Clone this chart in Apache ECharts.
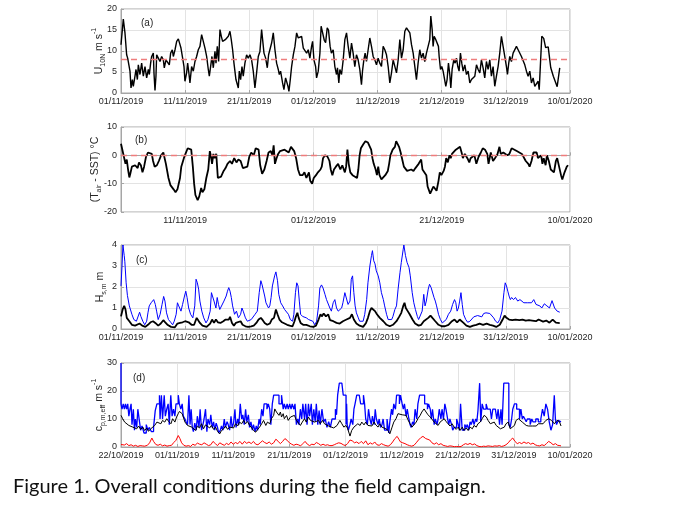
<!DOCTYPE html>
<html>
<head>
<meta charset="utf-8">
<title>Figure 1</title>
<script src="https://cdn.jsdelivr.net/npm/echarts@6.0.0/dist/echarts.min.js"></script>
<style>
  html, body { margin: 0; padding: 0; background: #fff; }
  #main { width: 680px; height: 510px; }
</style>
</head>
<body>
<div id="main"></div>
<script>
// time axis: days after 22/10/2019
var u10n = [[10,11.5],[10.36,17.6],[10.62,14.3],[10.88,9.1],[11.04,8.3],[11.25,8.7],[11.4,5.2],[11.56,1.2],[11.77,3.2],[11.92,1.6],[12.18,4],[12.34,5.6],[12.55,3.2],[12.7,6.7],[12.96,4.4],[13.22,7.1],[13.48,4],[13.74,6.3],[14,3.6],[14.26,5.6],[14.42,4.4],[14.62,7.1],[14.78,8.7],[15.04,9.5],[15.14,4.8],[15.3,0.6],[15.45,4],[15.56,9.1],[15.82,8.3],[16.08,7.5],[16.34,8.7],[16.6,7.9],[16.75,6],[17.01,7.9],[17.22,8.3],[17.53,6.7],[17.74,9.5],[18,10.3],[18.16,8.7],[18.42,10.3],[18.68,12.3],[18.94,12.9],[19.19,12.7],[19.35,10.7],[19.61,8.3],[19.82,6.3],[19.97,2.8],[20.23,4.8],[20.39,7.1],[20.55,5.2],[20.75,2.4],[21.01,6.3],[21.27,5.2],[21.53,7.5],[21.79,8.7],[22.05,10.3],[22.31,11.1],[22.57,13.9],[22.83,12.3],[23.09,10.7],[23.35,8.7],[23.61,5.6],[23.77,4],[23.97,6.3],[24.18,8.7],[24.39,6],[24.65,9.9],[24.81,7.1],[25.01,11.1],[25.22,7.5],[25.43,15.1],[25.64,13.5],[25.84,12.3],[26.05,11.9],[26.26,12.7],[26.47,13.1],[26.73,13.5],[26.99,14.7],[27.19,12.7],[27.4,10.3],[27.61,7.1],[27.92,3.2],[28.29,1.2],[28.44,5.2],[28.65,3.2],[28.86,6.3],[29.06,4],[29.32,7.1],[29.58,9.1],[29.84,8.3],[30.1,9.1],[30.36,7.9],[30.62,5.2],[30.88,1.2],[31.14,4.8],[31.4,8.7],[31.66,9.9],[31.92,15.1],[32.08,12.7],[32.29,9.5],[32.55,8.3],[32.81,6],[33.01,9.1],[33.22,8.7],[33.48,11.9],[33.74,14.3],[34,10.3],[34.26,7.1],[34.52,5.6],[34.68,4.4],[34.88,5.2],[35.19,2.4],[35.4,0.8],[35.66,3.6],[35.82,4],[36.03,1.6],[36.18,0.4],[36.39,3.2],[36.6,6.3],[36.86,9.1],[37.12,11.1],[37.38,14.3],[37.64,13.1],[37.9,12.7],[38.16,13.5],[38.42,10.7],[38.68,10.3],[38.94,9.5],[39.19,10.3],[39.45,8.3],[39.71,11.1],[39.87,12.3],[40.08,7.9],[40.34,6.3],[40.49,3.6],[40.75,5.2],[41.01,9.5],[41.2,15.9],[41.45,15.5],[41.7,12.5],[41.9,12],[42.15,15.5],[42.35,15],[42.6,11.1],[42.8,9.5],[43.08,10.3],[43.34,6.3],[43.6,4.4],[43.75,6],[43.96,2.4],[44.12,5.6],[44.38,4.4],[44.64,7.9],[44.9,12.7],[45.16,14.3],[45.42,11.1],[45.68,8.3],[45.94,11.9],[46.19,9.5],[46.45,6.3],[46.71,9.1],[46.97,7.9],[47.23,5.6],[47.49,2],[47.65,5.2],[47.86,7.9],[48.06,9.5],[48.27,7.5],[48.53,10.3],[48.79,13.1],[49.05,11.1],[49.31,8.7],[49.57,7.9],[49.83,6.7],[50.09,8.3],[50.35,7.1],[50.61,6.3],[50.87,11.1],[51.13,10.3],[51.39,9.1],[51.65,6.3],[51.91,2.4],[52.17,4.8],[52.43,7.9],[52.69,8.3],[52.95,4.8],[53.21,7.9],[53.47,12.7],[53.73,8.3],[53.99,10.3],[54.25,14.7],[54.51,15.5],[54.77,15.1],[55.03,14.3],[55.29,11.5],[55.55,9.5],[55.81,6.3],[56.06,3.2],[56.32,7.1],[56.58,10.3],[56.84,8.3],[57.1,9.5],[57.36,7.5],[57.62,9.5],[57.88,9.1],[58.14,12.7],[58.3,18.3],[58.51,15.1],[58.66,11.1],[58.82,13.5],[59.08,12.7],[59.29,13.1],[59.49,11.1],[59.6,8.7],[59.81,5.6],[60.01,6.3],[60.22,5.2],[60.48,5.6],[60.64,1.6],[60.84,3.2],[61.05,7.1],[61.26,4.4],[61.42,1.2],[61.62,5.6],[61.88,7.9],[62.09,7.1],[62.3,8.3],[62.51,6.3],[62.71,5.2],[62.92,9.5],[63.13,7.1],[63.34,5.2],[63.6,6.7],[63.86,4.4],[64.12,5.2],[64.38,2.4],[64.64,3.2],[64.9,2.8],[65.16,4],[65.42,6.7],[65.68,5.6],[65.94,4.8],[66.19,7.9],[66.45,6],[66.71,3.6],[66.97,7.5],[67.23,5.6],[67.49,7.9],[67.75,4],[68.01,6.3],[68.27,1.6],[68.53,4],[68.79,6.3],[69.05,9.5],[69.31,13.5],[69.57,11.1],[69.83,8.7],[70.09,6.3],[70.25,4.4],[70.45,7.1],[70.61,8.7],[70.87,7.5],[71.13,9.5],[71.39,9.1],[71.65,11.1],[71.91,10.3],[72.17,9.9],[72.43,8.7],[72.69,8.3],[72.95,6.7],[73.21,5.2],[73.47,4],[73.73,5.2],[73.99,2.4],[74.25,3.6],[74.51,1.6],[74.77,1.2],[75.03,2.8],[75.2,0.8],[75.6,13.5],[75.9,13],[76.2,10.8],[76.6,11],[77,6],[77.4,4],[78,1.5],[78.4,6]];

var tDiff = [[10,4.1],[10.3,4.5],[10.6,-2],[10.7,-3],[10.9,-1.5],[11.1,-5],[11.3,-7.8],[11.45,-6.5],[11.7,-4],[12,-4.5],[12.2,-3.5],[12.6,-4.5],[12.8,-2.5],[13.1,-3.5],[13.35,-6],[13.6,-4],[13.9,-0.5],[14.2,1],[14.5,1.2],[14.8,0.5],[15,-2],[15.25,-4],[15.6,-3.5],[15.9,-2],[16.25,0],[16.6,1],[16.8,0.5],[17,-3],[17.4,-8],[17.7,-10.5],[18.2,-12],[18.5,-13],[18.8,-12],[19.2,-8],[19.4,-4],[19.6,-2.5],[19.8,-1],[20.05,0.5],[20.4,2.5],[20.7,2.6],[20.95,2],[21.2,-4],[21.4,-10],[21.6,-14],[21.95,-15.8],[22.2,-14.5],[22.5,-11.5],[22.7,-13],[23,-12],[23.3,-8],[23.6,-5],[23.85,1.5],[24,0],[24.2,-3],[24.4,0.5],[24.6,-1],[24.85,0.5],[25.1,-8],[25.3,-8.5],[25.6,-7.5],[26,-5.5],[26.3,-4.5],[26.6,-3],[27,-2],[27.3,-3],[27.65,-1],[28,-2.5],[28.3,-1.5],[28.65,-2],[29,-4.5],[29.3,-5],[29.7,-4],[30,-0.5],[30.3,1],[30.7,0],[31,2.5],[31.2,3],[31.45,2],[31.7,-3.5],[32,-6.5],[32.35,-5],[32.7,-2],[33,1],[33.35,1.5],[33.6,0],[33.8,3.5],[34,-3],[34.25,-1],[34.5,0.5],[34.8,1.5],[35.1,1],[35.5,2],[35.8,1.5],[36.15,1],[36.5,3],[36.8,3],[37,1.5],[37.3,-1],[37.6,-5],[37.9,-7],[38.3,-7],[38.6,-6],[38.9,-8],[39.3,-6],[39.5,-9],[39.8,-10],[40.05,-8],[40.4,-7],[40.7,-6],[41.1,-5],[41.3,-4],[41.5,-1],[41.8,0],[42.2,-0.5],[42.5,-2],[42.7,-5],[42.95,-7],[43.2,-5],[43.5,-4],[43.85,-3],[44.2,-5],[44.5,-3.5],[44.9,-6],[45.1,-4],[45.3,2],[45.5,-3],[45.75,-6],[46.1,-7],[46.4,-6.5],[46.8,-8],[47,-5],[47.2,0],[47.4,2.5],[47.8,4],[48.1,5],[48.3,5.5],[48.5,4.5],[48.8,4],[49,2],[49.2,-1],[49.4,-3],[49.7,-5],[49.9,-7],[50.1,-4],[50.3,-7],[50.6,-8.5],[50.9,-9],[51.2,-7],[51.6,-5.5],[51.8,-3],[52,0],[52.35,2],[52.7,3],[52.9,5],[53.1,4.5],[53.35,3],[53.6,1],[53.9,-2],[54.1,-4],[54.4,-4.5],[54.6,-5.5],[54.9,-5.5],[55.25,-5],[55.6,-5.5],[55.9,-4.5],[56.1,-5],[56.4,-3],[56.6,-3],[56.8,-1.5],[57,-5],[57.3,-5.5],[57.6,-7],[57.8,-11],[58.2,-13.5],[58.5,-12],[58.7,-11],[58.9,-10.5],[59.2,-12.5],[59.5,-9],[59.7,-6],[59.95,-7],[60.3,-5.5],[60.5,-4],[60.7,-1],[60.95,-2.5],[61.2,0],[61.4,-1],[61.6,0.5],[61.8,1],[62.2,2],[62.5,1.5],[62.85,3],[63.1,1],[63.3,-1],[63.6,0.5],[64,-1],[64.3,-2.5],[64.5,-1],[64.75,-0.5],[65.1,0],[65.4,-3],[65.75,-0.5],[66.1,1],[66.4,2.5],[66.75,2],[67.1,0.5],[67.3,-3],[67.65,1],[68,-2],[68.3,-1],[68.7,0.5],[69,3],[69.2,0.5],[69.6,1],[69.9,1.5],[70.2,0],[70.55,0.5],[70.9,2.5],[71.2,2],[71.7,1.5],[72.1,1],[72.5,0.5],[72.8,0.5],[73.1,-2],[73.5,-3],[73.7,-4],[74,-2],[74.3,1],[74.5,1.5],[74.8,1],[75,-1],[75.2,-1.5],[75.5,0],[75.7,-3],[75.9,-1],[76.2,-3.5],[76.4,0],[76.7,-2],[77,-5],[77.5,-6],[77.8,-2],[78,-1],[78.3,-4],[78.6,-7],[78.8,-8.5],[79.15,-6],[79.5,-4],[79.7,-3.5]];

var hsBlue = [[10,2.05],[10.16,3],[10.3,4],[10.5,3.5],[10.6,3.2],[10.8,2.2],[11,1.6],[11.3,1.1],[11.7,0.7],[12,0.45],[12.4,0.37],[12.9,0.8],[13.1,0.6],[13.4,0.37],[13.7,0.2],[14,0.37],[14.2,0.77],[14.4,1.1],[14.7,1.25],[14.9,1.33],[15.1,1.4],[15.35,1.17],[15.55,0.85],[15.8,0.45],[16.1,0.7],[16.4,1.17],[16.65,1.55],[16.85,1.33],[17.1,0.77],[17.4,0.45],[17.75,0.32],[18.05,0.2],[18.3,0.37],[18.6,0.7],[18.8,1.25],[19,1.1],[19.35,0.85],[19.6,1.17],[19.9,1.57],[20.1,1.8],[20.3,1.5],[20.55,1],[20.85,0.7],[21.2,0.53],[21.5,1.1],[21.7,2.37],[21.9,2.2],[22.1,1.9],[22.3,1.33],[22.6,0.85],[22.9,0.53],[23.25,0.29],[23.55,0.45],[23.9,0.85],[24.1,1.73],[24.3,1.8],[24.5,1.33],[24.8,1],[25,1.5],[25.2,1.17],[25.4,0.93],[25.7,1],[26.05,1.33],[26.4,1.57],[26.6,1.8],[26.8,1.97],[27,1.8],[27.2,1.5],[27.4,1.1],[27.7,0.7],[28,0.85],[28.3,0.53],[28.65,0.7],[28.85,1],[29.05,0.85],[29.4,0.53],[29.7,0.37],[30,0.37],[30.3,0.45],[30.6,0.53],[30.9,0.7],[31.25,0.85],[31.55,1.73],[31.8,2.3],[32,2.1],[32.2,2.05],[32.4,1.57],[32.6,1.25],[32.8,1.17],[33,1],[33.2,1.1],[33.4,1.5],[33.6,2.05],[33.95,2.53],[34.15,2.72],[34.4,2.3],[34.6,1.65],[34.9,1.25],[35.2,1.1],[35.5,0.93],[35.8,0.85],[36.1,0.7],[36.4,0.45],[36.75,0.37],[36.95,0.7],[37.2,1.73],[37.4,2.2],[37.6,2.05],[37.8,1.33],[38,0.7],[38.3,0.6],[38.6,0.53],[38.9,0.53],[39.25,0.45],[39.55,0.53],[39.9,0.37],[40.2,0.2],[40.5,0.37],[40.8,1.1],[41,1.95],[41.26,2.1],[41.5,1.95],[41.8,1.65],[42.04,1.4],[42.3,1.33],[42.56,1],[42.8,0.85],[43.08,1.25],[43.34,1.4],[43.6,1],[43.86,0.85],[44.1,0.93],[44.4,1],[44.6,1.25],[44.9,1.73],[45.15,1.65],[45.4,1.17],[45.7,1.33],[45.9,2.37],[46.1,2.53],[46.3,1.73],[46.5,1.1],[46.7,0.77],[47,0.53],[47.2,0.37],[47.5,0.29],[47.75,0.37],[48,0.7],[48.3,1.4],[48.5,2.2],[48.8,3],[49.05,3.5],[49.2,3.73],[49.4,3.25],[49.6,3.1],[49.8,2.77],[50.1,2.53],[50.35,2.2],[50.6,1.73],[50.9,1.4],[51.1,1.1],[51.4,0.7],[51.65,0.45],[51.9,0.37],[52.2,0.45],[52.4,0.6],[52.7,0.93],[52.95,1.1],[53.2,1.9],[53.5,2.7],[53.7,3.17],[54,3.8],[54.1,4],[54.35,3.5],[54.6,3.17],[54.9,2.93],[55.1,2.53],[55.4,1.73],[55.65,1.25],[55.9,0.93],[56.2,0.6],[56.4,0.45],[56.7,0.53],[56.95,0.85],[57.2,1.65],[57.4,1.1],[57.6,1.33],[57.9,1.9],[58.1,2.13],[58.35,1.97],[58.55,1.9],[58.8,1.5],[59,1.33],[59.2,1.1],[59.5,0.7],[59.8,0.45],[60.1,0.29],[60.4,0.32],[60.7,0.45],[61.05,0.7],[61.4,0.85],[61.7,1.17],[62,1.4],[62.2,1.25],[62.4,0.85],[62.6,1],[62.8,1.33],[63,1.73],[63.2,1.17],[63.4,0.7],[63.75,0.45],[64.05,0.32],[64.4,0.37],[64.7,0.45],[65,0.58],[65.3,0.6],[65.6,0.64],[65.9,0.7],[66.25,0.58],[66.55,0.74],[66.9,0.77],[67.2,0.8],[67.5,0.74],[67.8,0.7],[68.1,0.53],[68.4,0.37],[68.75,0.29],[69.05,0.45],[69.4,0.85],[69.7,1.73],[69.9,2.2],[70.1,2.05],[70.3,1.8],[70.5,1.57],[70.7,1.4],[70.9,1.5],[71.2,1.4],[71.5,1.5],[71.85,1.33],[72.2,1.4],[72.5,1.33],[72.8,1.25],[73.1,1.33],[73.4,1.25],[73.7,1.33],[74,1.25],[74.35,1.4],[74.7,1.17],[75,1.25],[75.3,1.1],[75.6,1],[76,1.2],[76.4,1.1],[76.8,1],[77.2,1.35],[77.6,1],[78,0.85],[78.4,0.8]];

var hsBlack = [[10,0.6],[10.26,0.93],[10.5,1.1],[10.7,0.93],[10.9,0.53],[11.3,0.37],[11.7,0.2],[12.2,0.16],[12.9,0.26],[13.3,0.16],[13.8,0.1],[14.2,0.2],[14.6,0.32],[15,0.37],[15.35,0.29],[15.8,0.16],[16.2,0.26],[16.6,0.42],[16.9,0.32],[17.3,0.19],[17.8,0.1],[18.4,0.08],[18.8,0.26],[19.2,0.29],[19.6,0.32],[20,0.37],[20.2,0.45],[20.55,0.32],[21,0.2],[21.4,0.2],[21.6,0.37],[21.8,0.53],[22,0.45],[22.3,0.29],[22.7,0.16],[23.35,0.1],[23.9,0.26],[24.2,0.45],[24.5,0.29],[24.8,0.45],[25.1,0.32],[25.5,0.29],[25.95,0.37],[26.3,0.45],[26.6,0.53],[26.8,0.45],[27,0.58],[27.3,0.29],[27.6,0.16],[27.9,0.29],[28.2,0.2],[28.65,0.37],[28.95,0.2],[29.4,0.13],[29.8,0.1],[30.3,0.13],[30.7,0.16],[31.1,0.29],[31.45,0.45],[31.8,0.53],[32.1,0.42],[32.4,0.29],[32.8,0.2],[33.2,0.26],[33.5,0.45],[33.85,0.53],[34.15,0.93],[34.4,0.7],[34.7,0.45],[35.1,0.32],[35.5,0.26],[35.9,0.2],[36.3,0.16],[36.75,0.13],[37.05,0.37],[37.25,0.58],[37.5,0.77],[37.7,0.53],[38,0.29],[38.4,0.2],[38.9,0.2],[39.45,0.13],[40,0.1],[40.4,0.16],[40.8,0.45],[41.1,0.7],[41.3,0.6],[41.6,0.74],[41.95,0.6],[42.3,0.7],[42.6,0.42],[43.1,0.37],[43.6,0.29],[44.1,0.26],[44.6,0.37],[45.15,0.45],[45.7,0.53],[46,0.7],[46.3,0.45],[46.7,0.26],[47.2,0.16],[47.75,0.1],[48.2,0.29],[48.5,0.53],[48.8,0.85],[49.05,1],[49.3,0.93],[49.6,0.85],[49.9,0.7],[50.35,0.53],[50.9,0.37],[51.4,0.2],[51.9,0.13],[52.4,0.2],[52.95,0.37],[53.4,0.6],[53.7,0.77],[54,1.1],[54.2,1.25],[54.4,1],[54.7,0.85],[55,0.7],[55.45,0.45],[55.85,0.26],[56.4,0.16],[56.8,0.2],[57.2,0.37],[57.5,0.29],[57.9,0.53],[58.25,0.64],[58.55,0.53],[59,0.37],[59.5,0.2],[60,0.13],[60.5,0.13],[61.05,0.2],[61.6,0.37],[62,0.45],[62.4,0.32],[62.8,0.45],[63.1,0.53],[63.4,0.29],[63.85,0.16],[64.4,0.1],[64.9,0.16],[65.4,0.2],[65.9,0.26],[66.45,0.2],[67,0.26],[67.5,0.2],[68,0.16],[68.5,0.1],[69.05,0.2],[69.5,0.45],[69.8,0.64],[70.1,0.53],[70.5,0.45],[71,0.42],[71.5,0.45],[72.1,0.42],[72.6,0.45],[73.1,0.4],[73.6,0.42],[74.1,0.4],[74.7,0.37],[75.1,0.45],[75.3,0.38],[75.8,0.35],[76.3,0.4],[76.8,0.3],[77.3,0.45],[77.8,0.3],[78.4,0.28]];

var cpBlue = [[0,30],[0.18,15.4],[0.4,13.5],[0.6,15.4],[0.8,13.5],[1,15.4],[1.2,13.5],[1.4,15.4],[1.6,11],[1.8,13.5],[1.96,15.4],[2.2,8],[2.4,13.5],[2.56,6],[2.8,10],[3,7],[3.3,13.5],[3.5,9],[3.75,6],[4.1,7.5],[4.5,5],[4.8,8],[5.06,6],[5.4,7],[5.8,5.5],[6.1,7],[6.4,13],[6.6,15.4],[6.85,15.4],[6.96,18.5],[7.2,10],[7.4,18.5],[7.7,10],[7.9,18.5],[8.15,11],[8.4,13.5],[8.6,15.4],[8.87,8],[9.1,18.5],[9.35,11],[9.6,13.5],[9.8,11],[10.2,15.4],[10.4,18.5],[10.65,15.4],[10.9,13.5],[11.1,15.4],[11.4,11],[11.6,10],[11.85,9],[12.1,8],[12.3,18.5],[12.5,8],[12.7,13.5],[12.9,7],[13.15,5.5],[13.4,8.5],[13.6,6],[13.9,11],[14.1,7],[14.35,13.5],[14.6,6],[14.8,8],[15.06,10],[15.3,13.5],[15.5,5.5],[15.8,10],[16,8],[16.25,11.5],[16.5,7],[16.7,9],[16.96,6],[17.2,8.5],[17.4,7],[17.7,5],[17.9,6],[18.15,7.5],[18.4,6],[18.6,10],[18.9,7],[19.1,9],[19.35,8],[19.6,6],[19.8,11],[20.06,7],[20.3,8.5],[20.5,13.5],[20.8,7],[21,10],[21.25,8],[21.5,15.4],[21.7,10],[21.96,11.5],[22.2,8],[22.4,13.5],[22.7,9],[22.9,11.5],[23.15,7],[23.4,9],[23.6,6],[23.9,8],[24.1,5.5],[24.35,7.5],[24.6,6],[24.8,10],[25.06,8],[25.3,13.5],[25.5,11],[25.8,15.4],[26,15.4],[26.25,13.5],[26.5,15.4],[26.7,13.5],[26.96,8],[27.2,15.4],[27.4,18.5],[27.7,18.5],[27.9,18.5],[28.15,18.5],[28.4,15.4],[28.6,15.4],[28.9,18.5],[29.1,13.5],[29.35,15.4],[29.6,13.5],[29.8,15.4],[30.06,13.5],[30.3,15.4],[30.5,13.5],[30.8,15.4],[31,13.5],[31.25,15.4],[31.5,8],[31.7,10],[31.96,8],[32.2,13.5],[32.4,10],[32.7,15.4],[32.9,10],[33.15,15.4],[33.4,8],[33.6,15.4],[33.9,11],[34.1,15.4],[34.35,8],[34.6,13.5],[34.8,9],[35.06,15.4],[35.3,8],[35.5,13],[35.8,8],[36.1,13.5],[36.4,9],[36.7,10],[37,7],[37.3,9],[37.6,7],[37.9,10],[38.2,10],[38.4,13.5],[38.6,11.5],[38.9,18.5],[39.1,22.8],[39.35,22.8],[39.6,22.8],[39.8,18.5],[40.1,18.5],[40.2,8],[40.3,15.4],[40.5,8],[40.8,6],[41,8],[41.3,10],[41.5,8],[41.7,13.5],[42,15.4],[42.2,18.5],[42.45,18.5],[42.7,18.5],[42.9,15.4],[43.2,15.4],[43.4,18.5],[43.6,15.4],[43.9,10],[44.1,8],[44.35,13.5],[44.6,10],[44.8,8],[45.1,11],[45.3,8],[45.5,13.5],[45.8,10],[46,8],[46.25,10],[46.5,7],[46.7,8],[46.96,10],[47.2,6],[47.4,6],[47.7,10],[47.9,5],[48.2,9],[48.4,13.5],[48.6,11.5],[48.9,15.4],[49.1,13.5],[49.35,18.5],[49.6,18.5],[49.8,15.4],[50.1,18.5],[50.3,15.4],[50.5,13.5],[50.8,15.4],[51,11],[51.3,13.5],[51.5,10],[51.7,8],[51.96,7],[52.2,9],[52.4,8],[52.7,13.5],[52.9,10],[53.2,15.4],[53.4,18.5],[53.6,18.5],[53.9,18.5],[54.1,18.5],[54.35,15.4],[54.6,15.4],[54.8,13.5],[55.1,15.4],[55.3,13.5],[55.5,10],[55.8,13.5],[56,8],[56.3,10],[56.5,8],[56.7,10],[57,13.5],[57.2,10],[57.45,13.5],[57.7,10],[57.9,15.4],[58.2,13.5],[58.4,10],[58.6,8],[58.9,10],[59.1,8],[59.35,6],[59.6,7],[59.8,7],[60.1,10],[60.3,8],[60.5,6],[60.8,15.4],[61,6],[61.25,6],[61.5,8],[61.7,7],[61.96,8],[62.2,6],[62.4,9],[62.7,8],[62.9,10],[63.2,8],[63.4,10],[63.6,9],[63.9,13],[64.1,22.8],[64.35,9],[64.6,15.4],[64.8,13.5],[65.06,13.5],[65.3,15.4],[65.5,13.5],[65.8,13.5],[66,13.5],[66.25,10],[66.5,13.5],[66.7,13.5],[66.96,13.5],[67.2,10],[67.45,13.5],[67.7,8],[67.9,13.5],[68.2,8],[68.4,22.8],[68.6,22.8],[68.9,22.8],[69.1,22.8],[69.35,8],[69.6,7],[69.8,10],[70.1,13.5],[70.3,15.4],[70.5,15.4],[70.8,13.5],[71,13.5],[71.25,10],[71.5,13.5],[71.7,10],[71.96,11],[72.2,10],[72.4,9],[72.7,10],[72.9,10],[73.2,8],[73.4,10],[73.6,9],[73.9,9],[74.1,10],[74.35,10],[74.6,9],[74.8,9],[75.1,10],[75.4,13.5],[75.7,11],[76,15.4],[76.3,13.5],[76.6,9],[76.9,6],[77.2,8],[77.4,18.5],[77.6,10],[77.9,8],[78.2,9.5],[78.4,9]];

var cpBlack = [[0,11.3],[0.3,10.1],[0.65,8.9],[1,9.5],[1.4,7.7],[1.7,8.3],[2.1,7.1],[2.4,7.7],[2.8,6.5],[3.15,7.5],[3.5,6.3],[3.9,7.1],[4.2,5.9],[4.6,6.8],[4.9,5.6],[5.3,6.5],[5.65,6.8],[6,7.7],[6.4,8.9],[6.7,9.5],[7.1,8.3],[7.4,9.5],[7.8,8.9],[8.15,10.1],[8.5,9.1],[8.9,8.3],[9.2,10.1],[9.6,8.9],[9.9,10.7],[10.2,11.9],[10.4,12.7],[10.65,12.5],[10.9,11.9],[11.1,11.3],[11.4,8.9],[11.6,9.5],[11.85,7.7],[12.2,8.3],[12.6,7.1],[12.9,7.7],[13.3,5.9],[13.6,7.5],[14,6.8],[14.35,8.3],[14.7,6.5],[15.06,7.9],[15.4,7.5],[15.8,6.8],[16.1,7.7],[16.5,6.3],[16.85,7.1],[17.2,5.6],[17.6,4.7],[17.9,5.9],[18.3,6.5],[18.6,7.5],[19,6.3],[19.35,7.1],[19.7,7.7],[20.06,6.8],[20.4,8.3],[20.8,7.5],[21.1,8.9],[21.5,8.3],[21.85,9.5],[22.2,8.3],[22.56,9.1],[22.9,7.7],[23.3,6.8],[23.6,5.9],[24,5.3],[24.35,6.3],[24.7,7.1],[25.06,8.3],[25.4,9.5],[25.8,7.7],[26.1,8.9],[26.5,8.3],[26.8,10.1],[27.2,11.3],[27.4,13.6],[27.7,12.5],[27.9,13],[28.15,11.3],[28.4,12.5],[28.6,10.7],[28.9,11.9],[29.1,10.1],[29.5,11.3],[29.8,9.5],[30.2,10.7],[30.5,10.1],[30.9,11.3],[31.25,9.5],[31.6,8.9],[31.96,7.7],[32.3,8.9],[32.7,10.1],[33,8.9],[33.4,10.7],[33.75,9.5],[34.1,10.1],[34.5,8.9],[34.8,8.3],[35.2,9.5],[35.5,8.3],[35.9,9.5],[36.25,8.3],[36.6,7.9],[37,7.5],[37.3,7.9],[37.9,6.8],[38.5,7.7],[39,9.5],[39.35,8.3],[39.7,7.1],[40.1,7.7],[40.4,6.5],[40.8,3.9],[41.1,5.9],[41.5,7.1],[41.85,6.5],[42.2,8.3],[42.6,7.7],[42.9,8.9],[43.3,7.9],[43.6,8.9],[44,7.7],[44.35,8.3],[44.7,7.5],[45.1,8.9],[45.4,7.9],[45.8,7.1],[46.1,8.3],[46.5,7.1],[46.85,7.7],[47.2,6.5],[47.6,5.9],[47.9,4.7],[48.3,7.1],[48.6,8.9],[49,10.1],[49.35,11.9],[49.7,12.5],[50.1,11.5],[50.4,12.2],[50.8,11.3],[51.1,9.8],[51.5,8.3],[51.85,7.1],[52.2,7.7],[52.6,8.9],[52.9,10.1],[53.3,11.3],[53.6,12.5],[54,13.6],[54.35,12.5],[54.7,11.5],[55.1,10.7],[55.4,10.1],[55.8,8.9],[56.1,9.5],[56.5,7.7],[56.85,8.9],[57.2,9.5],[57.6,10.1],[57.9,9.1],[58.3,8.3],[58.6,7.5],[59,8.3],[59.35,7.1],[59.7,6.3],[60.1,7.1],[60.4,5.9],[60.8,7.1],[61.1,5.9],[61.5,6.8],[61.85,5.9],[62.2,7.1],[62.6,6.5],[62.9,7.7],[63.3,7.1],[63.6,8.3],[64,8.9],[64.35,10.1],[64.7,11.3],[65.1,10.7],[65.4,9.5],[65.8,8.3],[66.1,7.7],[66.5,8.9],[66.85,7.7],[67.2,7.1],[67.6,6.5],[67.9,5.9],[68.3,7.1],[68.6,8.3],[69,8.9],[69.35,6.5],[69.7,5.9],[70.1,7.7],[70.4,9.5],[70.8,10.1],[71.1,9.5],[71.5,8.9],[71.85,8.3],[72.2,7.7],[72.6,7.5],[72.9,7.9],[73.3,7.5],[73.6,7.1],[74,7.5],[74.35,8.3],[74.7,8.9],[75.2,8.3],[75.7,9.5],[76.2,10.1],[76.7,9.5],[77.2,8.3],[77.7,9.5],[78.1,9.1],[78.4,7.5]];

var cpRed = [[0,0.9],[0.3,1],[0.6,0.7],[1,1.2],[1.4,0.5],[1.8,0.8],[2.2,0.3],[2.6,0.6],[3,0.2],[3.4,0.5],[3.8,0.4],[4.2,0.3],[4.7,0.6],[5.1,1.5],[5.5,3.2],[5.8,2],[6.2,0.9],[6.6,0.6],[7,1],[7.4,0.4],[7.8,0.7],[8.2,0.3],[8.6,0.5],[9,0.6],[9.4,1.6],[9.8,2.4],[10.2,4.1],[10.5,3],[10.8,1.5],[11.2,0.6],[11.6,0.3],[12,0.5],[12.4,0.2],[12.8,1],[13.2,0.6],[13.6,1.4],[14,1],[14.4,0.8],[14.8,1.5],[15.2,1],[15.6,0.5],[16,0.8],[16.4,2],[16.8,1.2],[17.2,0.5],[17.6,1.5],[18,1],[18.4,0.6],[18.8,1.3],[19.2,0.8],[19.6,1.8],[20,1],[20.4,1.6],[20.8,1.2],[21.2,2],[21.6,1],[22,2],[22.4,1.3],[22.8,1.8],[23.2,1.2],[23.6,2],[24,1],[24.4,0.8],[24.8,1.5],[25.2,2.2],[25.6,1.6],[26,1.2],[26.4,1.8],[26.8,1],[27.2,1.5],[27.6,2.8],[28,2],[28.4,1.2],[28.8,2],[29.2,3],[29.6,2.4],[30,1.5],[30.4,1],[30.8,0.6],[31.2,1],[31.6,0.8],[32,0.4],[32.4,1.2],[32.8,2],[33.2,1],[33.6,0.5],[34,1],[34.4,0.8],[34.8,1.6],[35.2,1.2],[35.6,0.6],[36,1],[36.4,0.6],[36.8,0.8],[37.2,0.5],[37.6,0.5],[38,0.8],[38.4,1.2],[38.8,1.5],[39.2,1.3],[39.6,0.8],[40,0.5],[40.4,1.3],[40.8,2.5],[41.2,2.2],[41.6,1.5],[42,1.8],[42.4,1.2],[42.8,2],[43.2,1.2],[43.6,2.2],[44,0.8],[44.4,1.5],[44.8,1],[45.2,1.8],[45.6,0.8],[46,0.6],[46.4,1.2],[46.8,0.8],[47.2,0.5],[47.6,0.3],[48,0.8],[48.4,1.8],[48.8,3],[49.2,3.8],[49.5,2.8],[49.8,1.8],[50.2,1.5],[50.6,1.2],[51,0.8],[51.4,0.5],[51.8,0.3],[52.2,0.6],[52.6,1.5],[53,2.5],[53.4,3.3],[53.8,3.8],[54,4],[54.3,3],[54.6,3.6],[55,2.5],[55.4,1.5],[55.8,1],[56.2,1.5],[56.6,0.8],[57,1.2],[57.4,0.6],[57.8,0.4],[58.2,0.2],[58.6,0.4],[59,0.3],[59.4,0.1],[59.8,0.2],[60.2,0.1],[60.6,0.2],[61,0.8],[61.4,1.2],[61.8,0.9],[62.2,1.3],[62.6,0.8],[63,1.1],[63.4,0.5],[63.8,0.2],[64.2,0.1],[64.6,0.3],[65,0.2],[65.4,0.4],[65.8,0.3],[66.2,0.2],[66.6,0.4],[67,0.3],[67.4,0.5],[67.8,0.2],[68.2,0.4],[68.6,0.8],[69,1.5],[69.4,2.5],[69.8,3.2],[70.2,2],[70.6,1.2],[71,1.6],[71.4,1.2],[71.8,1.8],[72.2,1.3],[72.6,1.6],[73,1],[73.4,1.4],[73.8,0.8],[74.2,0.5],[74.6,0.4],[75,0.8],[75.4,0.5],[75.8,1.2],[76.2,2],[76.6,1.5],[77,0.8],[77.4,1.2],[77.8,0.6],[78.2,0.5],[78.4,0.4]];

// dashed reference levels in (a) and (b)
var u10nRef = 8;
var tDiffRef = 0;

var panelTags = ['(a)', '(b)', '(c)', '(d)'];
var bTickDays = [20, 40, 60, 80];
var caption = 'Figure 1. Overall conditions during the field campaign.';

var dayMs = 86400000;
var startMs = Date.UTC(2019, 9, 22);
function pad(n) { return n < 10 ? '0' + n : '' + n; }
function dayLabel(d) {
  var t = new Date(startMs + Math.round(d) * dayMs);
  return pad(t.getUTCDate()) + '/' + pad(t.getUTCMonth() + 1) + '/' + t.getUTCFullYear();
}

var font = 'Liberation Sans, Arial, Helvetica, sans-serif';
var boxColor = '#a6a6a6';
var gridColor = '#e3e3e3';
var textColor = '#262626';
var refColor = '#ee7d7d';

var grids = [
  { left: 121, width: 449, top: 9, height: 84 },
  { left: 121, width: 449, top: 127, height: 85 },
  { left: 121, width: 449, top: 245, height: 84 },
  { left: 121, width: 449, top: 363, height: 84 }
].map(function (g) {
  g.show = true; g.borderColor = boxColor; g.borderWidth = 1; g.containLabel = false;
  return g;
});

function xAxis(i, min, custom) {
  var ax = {
    type: 'value', gridIndex: i, min: min, max: 80,
    axisLine: { lineStyle: { color: boxColor } },
    axisTick: { inside: true, length: 3, lineStyle: { color: boxColor } },
    splitLine: { show: true, lineStyle: { color: gridColor, width: 1 } },
    axisLabel: { formatter: dayLabel, fontSize: 9, color: textColor, fontFamily: font, margin: 4, showMinLabel: true, showMaxLabel: true }
  };
  if (custom) {
    ax.axisTick.customValues = custom;
    ax.axisLabel.customValues = custom;
  } else {
    ax.interval = 10;
  }
  return ax;
}

var richName = {
  b: { fontSize: 10.5, lineHeight: 16, color: textColor, fontFamily: font },
  s: { fontSize: 7, lineHeight: 8, verticalAlign: 'bottom', color: textColor, fontFamily: font },
  p: { fontSize: 7, lineHeight: 8, verticalAlign: 'top', color: textColor, fontFamily: font }
};

function yAxis(i, min, max, interval, name, gap) {
  return {
    type: 'value', gridIndex: i, min: min, max: max, interval: interval,
    name: name, nameLocation: 'middle', nameRotate: 90, nameGap: gap,
    nameMoveOverlap: false,
    nameTextStyle: { rich: richName },
    axisLine: { show: true, lineStyle: { color: boxColor } },
    axisTick: { show: true, inside: true, length: 3, lineStyle: { color: boxColor } },
    splitLine: { show: true, lineStyle: { color: gridColor, width: 1 } },
    axisLabel: { fontSize: 9, color: textColor, fontFamily: font, margin: 4 }
  };
}

function line(i, data, color, width, extra) {
  var s = {
    type: 'line', xAxisIndex: i, yAxisIndex: i, data: data,
    showSymbol: false, symbol: 'none', silent: true,
    lineStyle: { color: color, width: width }, itemStyle: { color: color }
  };
  for (var k in extra) s[k] = extra[k];
  return s;
}

function refLine(value) {
  var style = { color: refColor, type: [6, 4], width: 1.3, opacity: 1 };
  return {
    silent: true, symbol: ['none', 'none'], label: { show: false },
    emphasis: { disabled: true },
    itemStyle: { color: refColor },
    lineStyle: style,
    data: [{ yAxis: value, lineStyle: style, itemStyle: { color: refColor } }]
  };
}

var tagPos = [[141, 18], [135, 135], [136, 255], [133, 373]];

var titles = panelTags.map(function (t, i) {
  return {
    text: t, left: tagPos[i][0], top: tagPos[i][1], padding: 0,
    textStyle: { fontSize: 10, fontWeight: 'normal', color: textColor, fontFamily: font }
  };
});
titles.push({
  text: caption, left: 13, top: 477, padding: 0,
  textStyle: { fontSize: 20, fontWeight: 'normal', color: '#111', fontFamily: 'Lato, Noto Sans, sans-serif' }
});

var chart = echarts.init(document.getElementById('main'));
chart.setOption({
  animation: false,
  backgroundColor: '#fff',
  title: titles,
  grid: grids,
  xAxis: [
    xAxis(0, 10),
    xAxis(1, 10, bTickDays),
    xAxis(2, 10),
    xAxis(3, 0)
  ],
  yAxis: [
    yAxis(0, 0, 20, 5, '{b|U}{s|10N}{b| m s}{p|-1}', 14),
    yAxis(1, -20, 10, 10, '{b|(T}{s|air}{b| - SST) °C}', 18),
    yAxis(2, 0, 4, 1, '{b|H}{s|s,m}{b| m}', 13),
    yAxis(3, 0, 30, 10, '{b|c}{s|p,m,eff}{b| m s}{p|-1}', 14)
  ],
  series: [
    line(0, u10n, '#000', 1.4, { markLine: refLine(u10nRef) }),
    line(1, tDiff, '#000', 1.8, { markLine: refLine(tDiffRef) }),
    line(2, hsBlue, '#0000ff', 1),
    line(2, hsBlack, '#000', 1.8),
    line(3, cpBlue, '#0000ff', 1.3, { step: 'start' }),
    line(3, cpBlack, '#000', 1),
    line(3, cpRed, '#ff0000', 1)
  ]
});
</script>
</body>
</html>
